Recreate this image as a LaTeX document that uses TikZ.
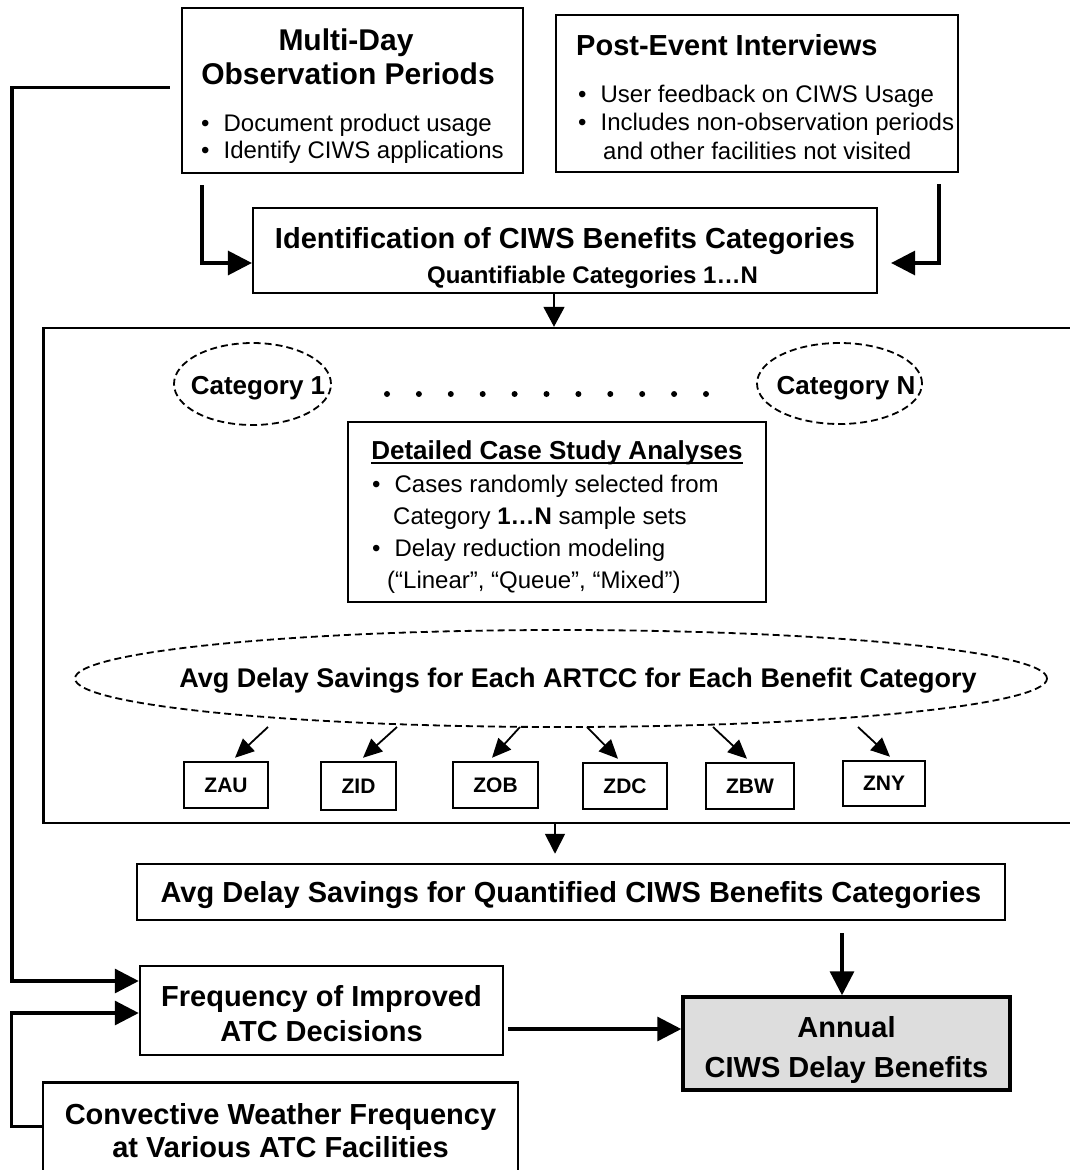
\documentclass[tikz,border=0pt]{standalone}
\usepackage{fontspec}
\setmainfont{Liberation Sans}
\usetikzlibrary{arrows.meta, positioning, shapes.geometric}
\definecolor{benefitgray}{RGB}{221,221,221}
\newcommand{\fsz}[1]{\fontsize{#1}{#1}\selectfont}
\newcommand{\bul}{\textbullet\hspace{14pt}}

\begin{document}
\begin{tikzpicture}[x=1pt, y=-1pt,
  box/.style={draw, line width=2.2pt, inner sep=0pt},
  zbox/.style={draw, line width=2.5pt, inner sep=0pt, minimum height=46pt, font=\fsz{21}\bfseries, text depth=0pt},
  txt/.style={inner sep=0pt, anchor=base},
  txtl/.style={inner sep=0pt, anchor=base west},
  ell/.style={draw, ellipse, line width=1.8pt, dash pattern=on 7pt off 4pt, inner sep=0pt},
  bigarrow/.style={line width=3.3pt, -{Triangle[length=24pt,width=24pt]}},
  smallarrow/.style={line width=1.8pt, -{Triangle[length=20pt,width=20pt]}},
  title/.style={font=\fsz{29}\bfseries},
  body/.style={font=\fsz{24}}]
  \useasboundingbox (0,0) rectangle (1070,1170);
  \clip (0,0) rectangle (1070,1170);

  % Observation periods
  \node[box, minimum width=341pt, minimum height=165pt] (obs) at (352.5,90.5) {};
  \node[txt, font=\fsz{30}\bfseries] (obsT1) at (346,50) {Multi-Day};
  \node[txt, font=\fsz{30}\bfseries] (obsT2) at (348,84) {Observation Periods};
  \node[txtl, body] (obsB1) at (201,131) {\bul Document product usage};
  \node[txtl, body] (obsB2) at (201,158) {\bul Identify CIWS applications};

  % Post-event interviews
  \node[box, minimum width=402pt, minimum height=157pt] (post) at (757,93.5) {};
  \node[txtl, title] (postT) at (576,55) {Post-Event Interviews};
  \node[txtl, body] (postB1) at (578,102) {\bul User feedback on CIWS Usage};
  \node[txtl, body] (postB2) at (578,130) {\bul Includes non-observation periods};
  \node[txtl, body] (postB3) at (603,159) {and other facilities not visited};

  % Benefit categories
  \node[box, minimum width=624pt, minimum height=85pt] (ident) at (565,250.5) {};
  \node[txt, title] (identT) at (565,248) {Identification of CIWS Benefits Categories};
  \node[txt, font=\fsz{24}\bfseries] (identS) at (592.5,283) {Quantifiable Categories 1…N};

  \draw[bigarrow] ([shift={(21pt,-11pt)}]obs.south west) |- ([yshift=-12.5pt]ident.west);
  \draw[bigarrow] ([shift={(-20pt,-11pt)}]post.south east) |- ([shift={(13pt,-12.5pt)}]ident.east);

  % Case study block
  \node[box, line width=2.4pt, minimum width=1041.5pt, minimum height=495pt] (study) at (564.25,575.5) {};
  \draw[line width=1.8pt, -{Triangle[length=20pt,width=21pt]}] ([xshift=-11pt]ident.south) -- ([xshift=-11pt]ident.south |- study.north);

  \node[ell, minimum width=157pt, minimum height=82pt] (cat1) at (252.5,384) {};
  \node[txt, font=\fsz{26}\bfseries] (cat1T) at (258,394) {Category 1};
  \node[ell, minimum width=165pt, minimum height=81pt] (catN) at (839.5,383.5) {};
  \node[txt, font=\fsz{26}\bfseries] (catNT) at (846,394) {Category N};
  \foreach \i in {0,...,10}
    \fill ({387+31.9*\i},394) circle (3pt);

  \node[box, minimum width=418pt, minimum height=180pt] (case) at (557,512) {};
  \node[txt, font=\fsz{26}\bfseries] (caseT) at (557,459) {Detailed Case Study Analyses};
  \draw[line width=1.5pt] ([yshift=-4pt]caseT.base west) -- ([yshift=-4pt]caseT.base east);
  \node[txtl, body] (caseB1) at (372,492) {\bul Cases randomly selected from};
  \node[txtl, body] (caseB2) at (393,524) {Category \textbf{1…N} sample sets};
  \node[txtl, body] (caseB3) at (372,556) {\bul Delay reduction modeling};
  \node[txtl, body] (caseB4) at (387,588) {(“Linear”, “Queue”, “Mixed”)};

  \node[ell, minimum width=972pt, minimum height=97pt] (avgEll) at (561,678.5) {};
  \node[txt, font=\fsz{27}\bfseries] (avgT) at (578,687) {Avg Delay Savings for Each ARTCC for Each Benefit Category};

  % ARTCCs
  \node[zbox, minimum width=84pt] (zau) at (226,785) {ZAU};
  \node[zbox, minimum width=75pt, minimum height=48pt] (zid) at (358.5,786) {ZID};
  \node[zbox, minimum width=85pt] (zob) at (495.5,785) {ZOB};
  \node[zbox, minimum width=84pt] (zdc) at (625,786) {ZDC};
  \node[zbox, minimum width=88pt] (zbw) at (750,786) {ZBW};
  \node[zbox, minimum width=82pt, minimum height=45pt] (zny) at (884,783.5) {ZNY};
  \foreach \nm/\sx/\dx in {zau/268/9, zid/397/4.5, zob/520/-3.5, zdc/587/-7, zbw/713/-3, zny/858/6} {
    \coordinate (\nm-in) at (\sx,727);
    \draw[line width=1.8pt, -{Triangle[length=19pt,width=17pt]}] (\nm-in) -- ([shift={(\dx pt,3pt)}]\nm.north);
  }

  % Totals
  \node[box, line width=2.5pt, minimum width=868pt, minimum height=56pt, title, text depth=0pt] (avgq) at (571,892) {Avg Delay Savings for Quantified CIWS Benefits Categories};
  \draw[smallarrow] ([xshift=-16pt]avgq.north |- study.south) -- ([shift={(-16pt,9pt)}]avgq.north);

  \node[box, line width=2.5pt, minimum width=363pt, minimum height=89pt, align=center, font=\fontsize{29}{35}\selectfont\bfseries, text depth=0pt] (freq) at (321.5,1010.5) {\rule{0pt}{26pt}Frequency of Improved\\ATC Decisions};
  \node[box, line width=3.5pt, fill=benefitgray, minimum width=327pt, minimum height=93pt, align=center, font=\fontsize{29}{40}\selectfont\bfseries, text depth=0pt] (annual) at (846.5,1043.5) {\rule{0pt}{28pt}Annual\\CIWS Delay Benefits};
  \node[box, line width=2.5pt, anchor=north, minimum width=475pt, inner ysep=21.3pt, align=center, font=\fontsize{29}{33.4}\selectfont\bfseries, text depth=0pt] (conv) at (280.5,1081) {Convective Weather Frequency\\at Various ATC Facilities};

  \draw[bigarrow, shorten <=12pt] ([xshift=-4.5pt]annual.north |- avgq.south) -- ([xshift=-4.5pt]annual.north);
  \draw[bigarrow, shorten <=4pt] ([yshift=-18.5pt]freq.east) -- ([yshift=-18.5pt]freq.east -| annual.west);

  % Feedback lines
  \draw[bigarrow] ([shift={(-11pt,3pt)}]obs.west) -- ++(-158,0) |- ([yshift=29.5pt]freq.west);
  \draw[bigarrow] ([yshift=4.3pt]conv.west) -- ++(-30,0) |- ([yshift=-2.5pt]freq.west);
\end{tikzpicture}
\end{document}
